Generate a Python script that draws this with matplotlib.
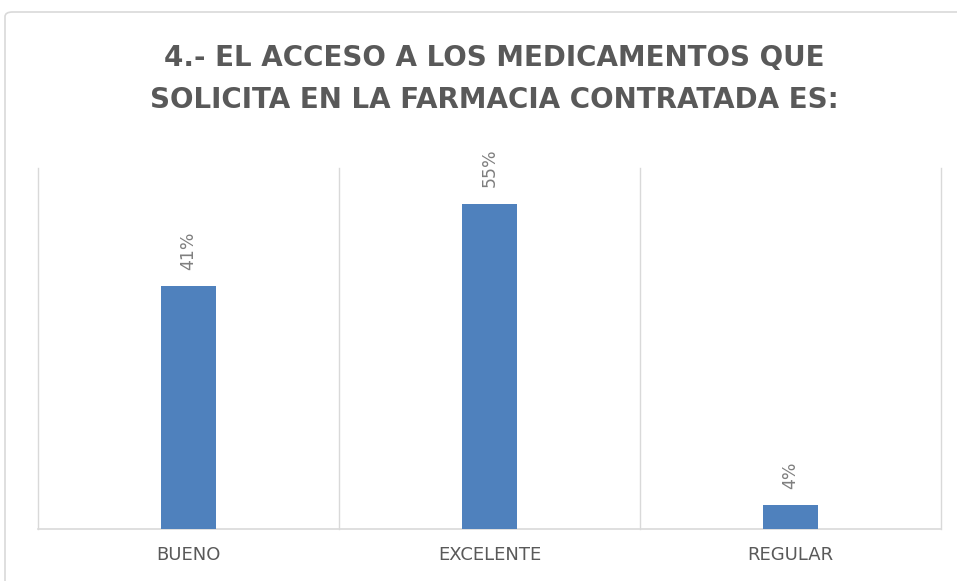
import matplotlib
matplotlib.use("Agg")
import matplotlib.pyplot as plt
from matplotlib.patches import FancyBboxPatch

categories = ["BUENO", "EXCELENTE", "REGULAR"]
values = [41, 55, 4]
labels = ["41%", "55%", "4%"]
title_lines = ["4.- EL ACCESO A LOS MEDICAMENTOS QUE", "SOLICITA EN LA FARMACIA CONTRATADA ES:"]

W, H = 957, 581
fig = plt.figure(figsize=(W / 100, H / 100), dpi=100)
fig.patch.set_facecolor("white")

# outer chart border (extends beyond the right and bottom edges)
border = FancyBboxPatch((5 / W, -0.05), 1.05, 1 - 12 / H + 0.05,
                        boxstyle="round,pad=0,rounding_size=0.008",
                        transform=fig.transFigure, fill=False,
                        edgecolor="#d9d9d9", linewidth=1.2)
fig.patches.append(border)

ax = fig.add_axes([38 / W, (H - 529) / H, (941 - 38) / W, (529 - 168) / H])
x = list(range(len(categories)))
ax.bar(x, values, width=0.183, color="#4f81bd", zorder=3)
ax.set_xlim(-0.5, len(categories) - 0.5)
ax.set_ylim(0, 61)
for b in [i - 0.5 for i in range(len(categories) + 1)]:
    ax.axvline(b, color="#d9d9d9", linewidth=1, zorder=1, clip_on=False)
for s in ["top", "left", "right"]:
    ax.spines[s].set_visible(False)
ax.spines["bottom"].set_color("#d9d9d9")
ax.spines["bottom"].set_linewidth(1.2)
ax.set_yticks([])
ax.set_xticks(x)
ax.set_xticklabels(categories, fontsize=13, color="#595959",
                   fontfamily="DejaVu Sans")
ax.tick_params(axis="x", length=0, pad=12)

for xi, v, t in zip(x, values, labels):
    ax.annotate(t, (xi, v), xytext=(0, 12), textcoords="offset points",
                rotation=90, ha="center", va="bottom", fontsize=12.5,
                color="#7f7f7f", fontfamily="DejaVu Sans", annotation_clip=False)

fig.text(494 / W, 1 - 58 / H, title_lines[0], ha="center", va="center",
         fontsize=20, fontweight="bold", color="#595959", fontfamily="DejaVu Sans")
fig.text(494 / W, 1 - 100 / H, title_lines[1], ha="center", va="center",
         fontsize=20, fontweight="bold", color="#595959", fontfamily="DejaVu Sans")

fig.savefig("out.png", dpi=100)
